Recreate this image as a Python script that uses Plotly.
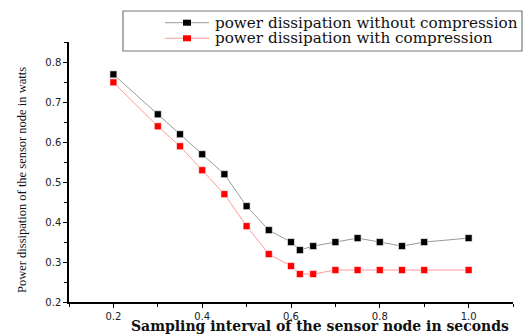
import plotly.graph_objects as go

x_vals = [0.2, 0.3, 0.35, 0.4, 0.45, 0.5, 0.55, 0.6, 0.62, 0.65, 0.7, 0.75, 0.8, 0.85, 0.9, 1.0]
without_comp = [0.77, 0.67, 0.62, 0.57, 0.52, 0.44, 0.38, 0.35, 0.33, 0.34, 0.35, 0.36, 0.35, 0.34, 0.35, 0.36]
with_comp = [0.75, 0.64, 0.59, 0.53, 0.47, 0.39, 0.32, 0.29, 0.27, 0.27, 0.28, 0.28, 0.28, 0.28, 0.28, 0.28]
series_names = ["power dissipation without compression", "power dissipation with compression"]
line_colors = ["#9a9a9a", "#ff9a9a"]
marker_colors = ["black", "red"]
x_ticks = [0.2, 0.4, 0.6, 0.8, 1.0]
y_ticks = [0.2, 0.3, 0.4, 0.5, 0.6, 0.7, 0.8]
x_title = "Sampling interval of the sensor node in seconds"
y_title = "Power dissipation of the sensor node in watts"

W, H = 525, 335
L, R, T, B = 69, 12, 42, 33
PW, PH = W - L - R, H - T - B


def px(xp):
    return (xp - L) / PW


def py(yp):
    return (H - B - yp) / PH


fig = go.Figure()
for name, ys, lc, mc in zip(series_names, [without_comp, with_comp], line_colors, marker_colors):
    fig.add_trace(go.Scatter(
        x=x_vals, y=ys, name=name, mode="lines+markers", showlegend=False,
        line=dict(color=lc, width=1),
        marker=dict(symbol="square", size=7, color=mc, line=dict(color="white", width=0.6)),
    ))

axis_common = dict(
    showline=True, linecolor="black", linewidth=1.5, ticks="outside", ticklen=4,
    tickwidth=1.3, tickcolor="black", showgrid=False, zeroline=False, mirror=False,
    tickfont=dict(family="DejaVu Sans", size=10, color="#222"),
)
fig.update_xaxes(
    range=[0.1, 1.1], tickvals=x_ticks, tickformat=".1f",
    minor=dict(ticks="outside", ticklen=3, tickcolor="black", dtick=0.1, tick0=0.1),
    **axis_common,
)
fig.update_yaxes(
    range=[0.2, 0.851], tickvals=y_ticks, tickformat=".1f",
    minor=dict(ticks="outside", ticklen=3, tickcolor="black", dtick=0.05, tick0=0.2),
    **axis_common,
)

shapes = []
annotations = []
# legend box
shapes.append(dict(type="rect", xref="paper", yref="paper",
                   x0=px(123), x1=px(522), y0=py(51), y1=py(11),
                   line=dict(color="#777", width=1.2), fillcolor="white", layer="above"))
for i, (name, lc, mc) in enumerate(zip(series_names, line_colors, marker_colors)):
    yr = 22.7 + i * 15.6
    shapes.append(dict(type="line", xref="paper", yref="paper",
                       x0=px(165), x1=px(209), y0=py(yr), y1=py(yr),
                       line=dict(color=lc, width=1), layer="above"))
    shapes.append(dict(type="rect", xref="paper", yref="paper",
                       x0=px(183), x1=px(191), y0=py(yr + 3), y1=py(yr - 3),
                       line=dict(width=0), fillcolor=mc, layer="above"))
    annotations.append(dict(text=name, xref="paper", yref="paper", x=px(214), y=py(yr),
                            xanchor="left", yanchor="middle", showarrow=False, borderpad=0,
                            font=dict(family="DejaVu Serif", size=15.2, color="#111")))

annotations.append(dict(text=x_title, xref="paper", yref="paper", x=px(319.5), y=0.0,
                        yshift=-(B - 0.5), xanchor="center", yanchor="bottom", showarrow=False,
                        borderpad=0,
                        font=dict(family="DejaVu Serif", size=14, color="#111", weight="bold")))
annotations.append(dict(text=y_title, xref="paper", yref="paper", x=px(22), y=py(180),
                        xanchor="center", yanchor="middle", showarrow=False, textangle=-90,
                        font=dict(family="Liberation Serif", size=12.5, color="#111")))

fig.update_layout(
    width=W, height=H,
    margin=dict(l=L, r=R, t=T, b=B),
    plot_bgcolor="white", paper_bgcolor="white",
    showlegend=False,
    shapes=shapes, annotations=annotations,
)
fig.write_html("out.html")
